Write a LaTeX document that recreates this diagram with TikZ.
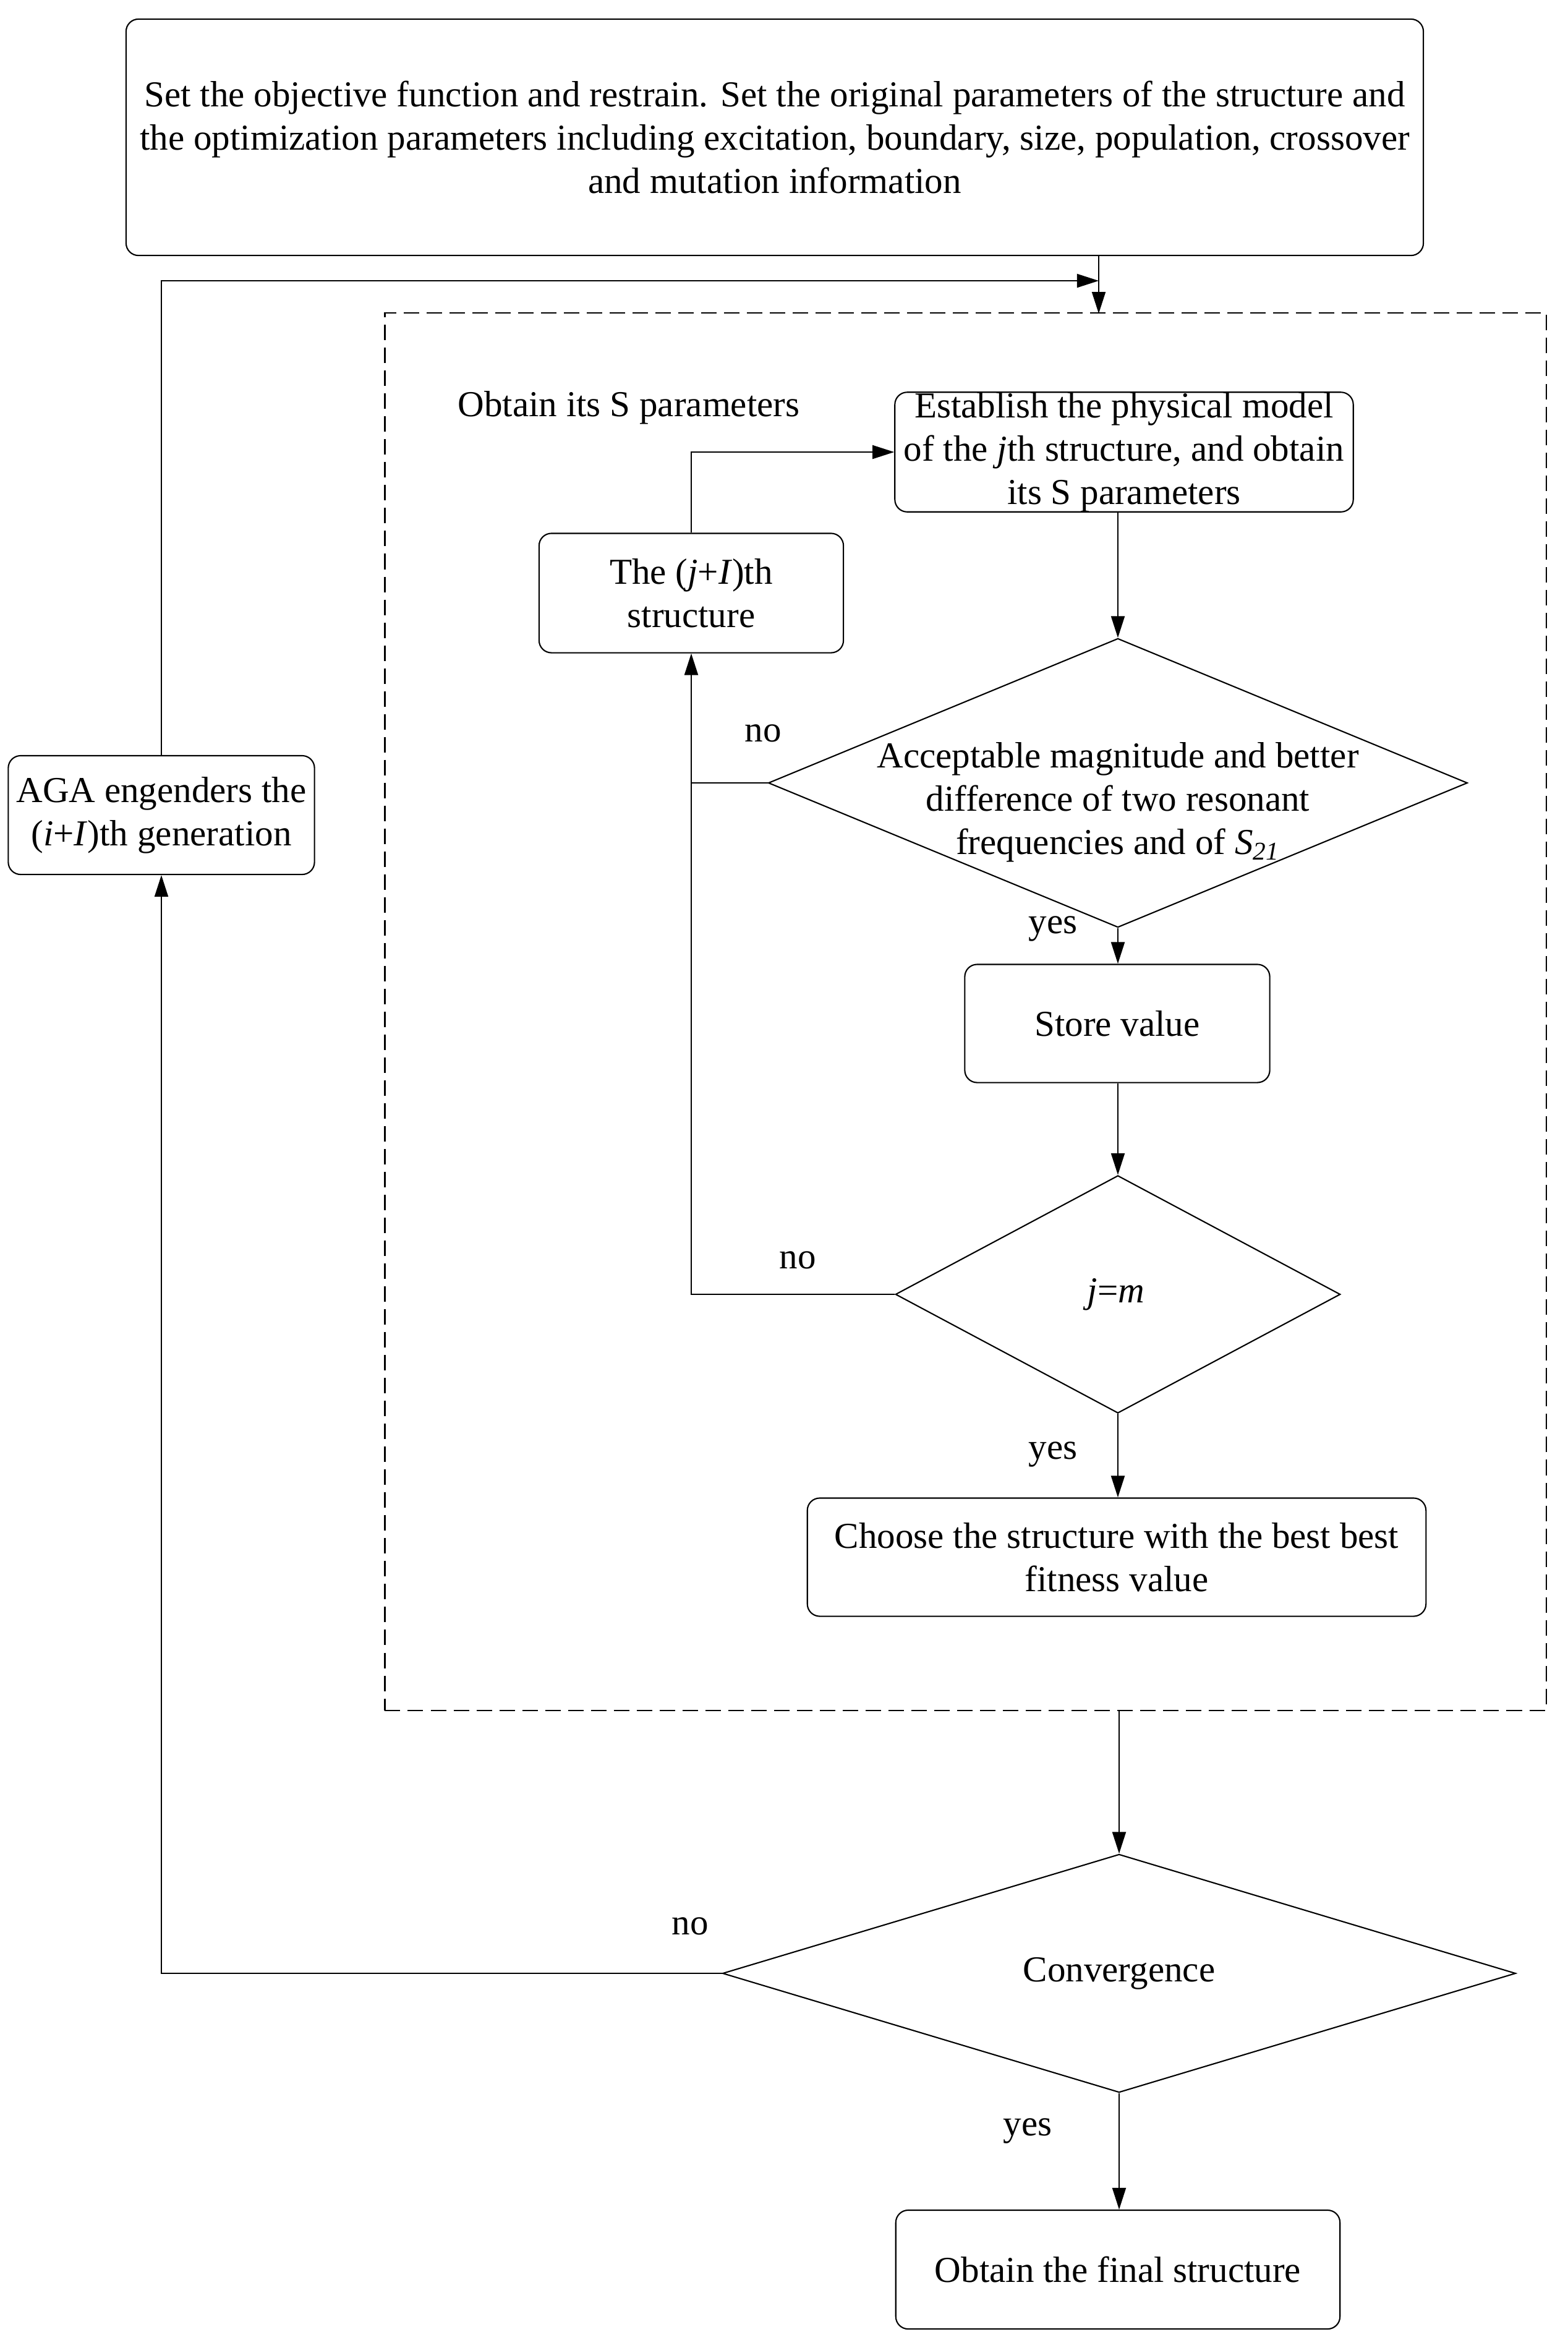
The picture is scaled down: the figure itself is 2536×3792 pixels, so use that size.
\documentclass[tikz,border=0pt]{standalone}
\usepackage{fontspec}
\setmainfont{Liberation Serif}
\usepackage{tikz}
\usetikzlibrary{arrows.meta}
\usetikzlibrary{shapes.geometric}

\begin{document}
\begin{tikzpicture}[x=0.01cm, y=-0.01cm, font=\fontsize{16.8}{19.9}\selectfont,
	box/.style={draw, rounded corners=0.2cm, align=center, inner sep=0pt, line width=0.6pt},
	decision/.style={draw, diamond, inner sep=0pt, line width=0.6pt},
	lbl/.style={inner sep=0pt, align=center},
	arr/.style={-{Triangle[length=0.35cm,width=0.22cm]}, line width=0.6pt}]
	
	\useasboundingbox (0,0) rectangle (2536,3792);
	
	% outer loop frame
	\node[draw, dash pattern=on 0.25cm off 0.12cm, line width=0.6pt, inner sep=0pt, minimum width=18.77cm, minimum height=22.58cm] (frame) at (1561.5,1636) {};
	
	\node[box, minimum width=20.97cm, minimum height=3.82cm] (setup) at (1253,222) {Set the objective function and restrain. Set the original parameters of the structure and\\ the optimization parameters including excitation, boundary, size, population, crossover\\ and mutation information};
	\node[box, minimum width=4.95cm, minimum height=1.92cm] (aga) at (261,1318) {AGA engenders the\\ (\textit{i}+\textit{I})th generation};
	
	\node[lbl] (sparam) at (1017,659) {Obtain its S parameters};
	\node[box, minimum width=7.41cm, minimum height=1.91cm] (model) at (1818,731) {Establish the physical model\\ of the \textit{j}th structure, and obtain\\ its S parameters};
	\node[box, minimum width=4.92cm, minimum height=1.93cm] (next) at (1118,959) {The (\textit{j}+\textit{I})th\\ structure};
	
	\node[decision, minimum width=11.3cm, minimum height=4.67cm] (accept) at (1808,1266) {};
	\node[lbl] (accepttext) at (1808,1297) {Acceptable magnitude and better\\ difference of two resonant\\ frequencies and of \textit{S\textsubscript{21}}};
	\node[box, minimum width=4.93cm, minimum height=1.91cm] (store) at (1807,1655) {Store value};
	\node[decision, minimum width=7.19cm, minimum height=3.84cm] (last) at (1808,2093) {};
	\node[lbl] (lasttext) at (1805,2093) {\textit{j}=\textit{m}};
	\node[box, minimum width=10cm, minimum height=1.91cm] (choose) at (1806,2518) {Choose the structure with the best best\\ fitness value};
	
	\node[decision, minimum width=12.82cm, minimum height=3.85cm] (conv) at (1810,3191) {};
	\node[lbl] (convtext) at (1810,3191) {Convergence};
	\node[box, minimum width=7.18cm, minimum height=1.92cm] (final) at (1808,3670) {Obtain the final structure};
	
	% yes / no marks
	\node[lbl] (no1) at (1234,1186) {no};
	\node[lbl] (yes1) at (1703,1502) {yes};
	\node[lbl] (no2) at (1290,2038) {no};
	\node[lbl] (yes2) at (1703,2352) {yes};
	\node[lbl] (no3) at (1116,3115) {no};
	\node[lbl] (yes3) at (1662,3446) {yes};
	
	\coordinate (entry) at (1777,507);
	\coordinate (merge) at (1777,454);
	
	\draw[arr] (setup.south -| entry) -- (entry);
	\draw[arr] (aga.north) |- (merge);
	\draw[arr] (model.south -| accept.north) -- (accept.north);
	\draw[arr] (accept.south) -- (store.north -| accept.south);
	\draw[arr] (store.south -| last.north) -- (last.north);
	\draw[arr] (last.south) -- (choose.north -| last.south);
	\draw[line width=0.6pt] (accept.west) -- (accept.west -| next.south);
	\draw[arr] (last.west) -| (next.south);
	\draw[arr] (next.north) |- (model.west);
	\draw[arr] (frame.south -| conv.north) -- (conv.north);
	\draw[arr] (conv.south) -- (final.north -| conv.south);
	\draw[arr] (conv.west) -| (aga.south);
	
\end{tikzpicture}
\end{document}
